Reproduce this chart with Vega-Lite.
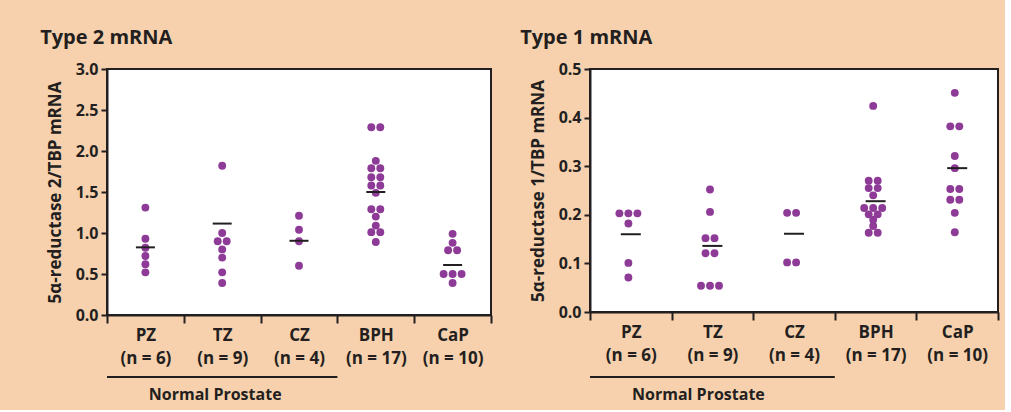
{
  "$schema": "https://vega.github.io/schema/vega-lite/v6.json",
  "background": "#F7D1AD",
  "padding": {"left": 39, "top": 27, "right": 5, "bottom": 5},
  "spacing": 26,
  "datasets": {
    "t2": [
      {"cat": "PZ", "v": 1.31}, {"cat": "PZ", "v": 0.93}, {"cat": "PZ", "v": 0.82}, {"cat": "PZ", "v": 0.72}, {"cat": "PZ", "v": 0.62}, {"cat": "PZ", "v": 0.52},
      {"cat": "TZ", "v": 1.82}, {"cat": "TZ", "v": 1.0}, {"cat": "TZ", "v": 0.9}, {"cat": "TZ", "v": 0.9}, {"cat": "TZ", "v": 0.8}, {"cat": "TZ", "v": 0.7}, {"cat": "TZ", "v": 0.52}, {"cat": "TZ", "v": 0.39},
      {"cat": "CZ", "v": 1.21}, {"cat": "CZ", "v": 1.04}, {"cat": "CZ", "v": 0.9}, {"cat": "CZ", "v": 0.6},
      {"cat": "BPH", "v": 2.29}, {"cat": "BPH", "v": 2.29}, {"cat": "BPH", "v": 1.88}, {"cat": "BPH", "v": 1.79}, {"cat": "BPH", "v": 1.79}, {"cat": "BPH", "v": 1.68}, {"cat": "BPH", "v": 1.68}, {"cat": "BPH", "v": 1.58}, {"cat": "BPH", "v": 1.58}, {"cat": "BPH", "v": 1.49}, {"cat": "BPH", "v": 1.29}, {"cat": "BPH", "v": 1.29}, {"cat": "BPH", "v": 1.2}, {"cat": "BPH", "v": 1.09}, {"cat": "BPH", "v": 1.01}, {"cat": "BPH", "v": 1.01}, {"cat": "BPH", "v": 0.89},
      {"cat": "CaP", "v": 0.99}, {"cat": "CaP", "v": 0.88}, {"cat": "CaP", "v": 0.79}, {"cat": "CaP", "v": 0.79}, {"cat": "CaP", "v": 0.5}, {"cat": "CaP", "v": 0.5}, {"cat": "CaP", "v": 0.5}, {"cat": "CaP", "v": 0.39}
    ],
    "t2mean": [
      {"cat": "PZ", "mean": 0.825}, {"cat": "TZ", "mean": 1.115}, {"cat": "CZ", "mean": 0.905}, {"cat": "BPH", "mean": 1.5}, {"cat": "CaP", "mean": 0.61}
    ],
    "t1": [
      {"cat": "PZ", "v": 0.203}, {"cat": "PZ", "v": 0.203}, {"cat": "PZ", "v": 0.203}, {"cat": "PZ", "v": 0.182}, {"cat": "PZ", "v": 0.101}, {"cat": "PZ", "v": 0.071},
      {"cat": "TZ", "v": 0.252}, {"cat": "TZ", "v": 0.206}, {"cat": "TZ", "v": 0.152}, {"cat": "TZ", "v": 0.152}, {"cat": "TZ", "v": 0.121}, {"cat": "TZ", "v": 0.121}, {"cat": "TZ", "v": 0.054}, {"cat": "TZ", "v": 0.054}, {"cat": "TZ", "v": 0.054},
      {"cat": "CZ", "v": 0.204}, {"cat": "CZ", "v": 0.204}, {"cat": "CZ", "v": 0.102}, {"cat": "CZ", "v": 0.102},
      {"cat": "BPH", "v": 0.424}, {"cat": "BPH", "v": 0.27}, {"cat": "BPH", "v": 0.27}, {"cat": "BPH", "v": 0.255}, {"cat": "BPH", "v": 0.255}, {"cat": "BPH", "v": 0.24}, {"cat": "BPH", "v": 0.214}, {"cat": "BPH", "v": 0.214}, {"cat": "BPH", "v": 0.214}, {"cat": "BPH", "v": 0.201}, {"cat": "BPH", "v": 0.201}, {"cat": "BPH", "v": 0.19}, {"cat": "BPH", "v": 0.177}, {"cat": "BPH", "v": 0.163}, {"cat": "BPH", "v": 0.163},
      {"cat": "CaP", "v": 0.451}, {"cat": "CaP", "v": 0.382}, {"cat": "CaP", "v": 0.382}, {"cat": "CaP", "v": 0.321}, {"cat": "CaP", "v": 0.296}, {"cat": "CaP", "v": 0.253}, {"cat": "CaP", "v": 0.253}, {"cat": "CaP", "v": 0.231}, {"cat": "CaP", "v": 0.231}, {"cat": "CaP", "v": 0.204}, {"cat": "CaP", "v": 0.164}
    ],
    "t1mean": [
      {"cat": "PZ", "mean": 0.16}, {"cat": "TZ", "mean": 0.136}, {"cat": "CZ", "mean": 0.161}, {"cat": "BPH", "mean": 0.228}, {"cat": "CaP", "mean": 0.296}
    ],
    "groups": [
      {"from": "PZ", "to": "CZ", "mid": "TZ", "label": "Normal Prostate"}
    ]
  },
  "config": {
    "font": "Open Sans",
    "view": {"fill": "white", "stroke": "#231F20", "strokeWidth": 2},
    "title": {"anchor": "start", "frame": "bounds", "fontSize": 20, "fontWeight": "bold", "color": "#231F20", "font": "Open Sans"},
    "axisX": {
      "title": null, "labelAngle": 0, "domainColor": "#231F20", "domainWidth": 2,
      "tickBand": "extent", "tickSize": 8, "tickWidth": 2, "tickColor": "#231F20",
      "labelFontSize": 17, "labelFontWeight": "bold", "labelColor": "#231F20", "labelLineHeight": 23, "labelPadding": 4, "labelOverlap": false,
      "labelExpr": "[datum.value, {'PZ':'(n = 6)','TZ':'(n = 9)','CZ':'(n = 4)','BPH':'(n = 17)','CaP':'(n = 10)'}[datum.value]]"
    },
    "axisY": {
      "domainColor": "#231F20", "domainWidth": 2, "tickSize": 6, "tickWidth": 2, "tickColor": "#231F20", "grid": false,
      "labelFontSize": 16, "labelFontWeight": "bold", "labelColor": "#231F20", "labelPadding": 3, "format": ".1f",
      "titleFontSize": 17, "titleFontWeight": "bold", "titleColor": "#231F20", "titlePadding": 11
    }
  },
  "resolve": {"scale": {"x": "independent", "y": "independent"}},
  "hconcat": [
    {
      "width": 384, "height": 246,
      "title": {"text": "Type 2 mRNA", "dx": -6, "offset": 13},
      "layer": [
        {
          "data": {"name": "t2"},
          "transform": [
            {"window": [{"op": "row_number", "as": "rank"}], "groupby": ["cat", "v"]},
            {"joinaggregate": [{"op": "count", "as": "cnt"}], "groupby": ["cat", "v"]},
            {"calculate": "datum.rank - (datum.cnt + 1) / 2", "as": "slot"}
          ],
          "mark": {"type": "circle", "size": 62, "color": "#8E3B98", "opacity": 1},
          "encoding": {
            "x": {"field": "cat", "type": "nominal", "scale": {"domain": ["PZ", "TZ", "CZ", "BPH", "CaP"], "paddingInner": 0, "paddingOuter": 0}},
            "xOffset": {"field": "slot", "type": "quantitative", "scale": {"domain": [-1, 1], "range": [29.4, 47.4]}},
            "y": {"field": "v", "type": "quantitative", "scale": {"domain": [0, 3]}, "axis": {"values": [0, 0.5, 1, 1.5, 2, 2.5, 3], "title": "5α-reductase 2/TBP mRNA"}}
          }
        },
        {
          "data": {"name": "t2mean"},
          "mark": {"type": "tick", "orient": "horizontal", "size": 19, "thickness": 2, "color": "#231F20", "opacity": 1},
          "encoding": {
            "x": {"field": "cat", "type": "nominal"},
            "y": {"field": "mean", "type": "quantitative"}
          }
        },
        {
          "data": {"name": "groups"},
          "mark": {"type": "rule", "clip": false, "strokeWidth": 2, "color": "#231F20"},
          "encoding": {
            "x": {"field": "from", "type": "nominal", "bandPosition": 0},
            "x2": {"field": "to", "bandPosition": 1},
            "y": {"datum": -0.756}
          }
        },
        {
          "data": {"name": "groups"},
          "mark": {"type": "text", "clip": false, "fontSize": 16, "fontWeight": "bold", "color": "#231F20", "dx": -7, "baseline": "middle"},
          "encoding": {
            "x": {"field": "mid", "type": "nominal"},
            "y": {"datum": -0.976},
            "text": {"field": "label"}
          }
        }
      ]
    },
    {
      "width": 408, "height": 243,
      "title": {"text": "Type 1 mRNA", "dx": -9, "offset": 13},
      "layer": [
        {
          "data": {"name": "t1"},
          "transform": [
            {"window": [{"op": "row_number", "as": "rank"}], "groupby": ["cat", "v"]},
            {"joinaggregate": [{"op": "count", "as": "cnt"}], "groupby": ["cat", "v"]},
            {"calculate": "datum.rank - (datum.cnt + 1) / 2", "as": "slot"}
          ],
          "mark": {"type": "circle", "size": 62, "color": "#8E3B98", "opacity": 1},
          "encoding": {
            "x": {"field": "cat", "type": "nominal", "scale": {"domain": ["PZ", "TZ", "CZ", "BPH", "CaP"], "paddingInner": 0, "paddingOuter": 0}},
            "xOffset": {"field": "slot", "type": "quantitative", "scale": {"domain": [-1, 1], "range": [30.8, 50.8]}},
            "y": {"field": "v", "type": "quantitative", "scale": {"domain": [0, 0.5]}, "axis": {"values": [0, 0.1, 0.2, 0.3, 0.4, 0.5], "title": "5α-reductase 1/TBP mRNA"}}
          }
        },
        {
          "data": {"name": "t1mean"},
          "mark": {"type": "tick", "orient": "horizontal", "size": 20, "thickness": 2, "color": "#231F20", "opacity": 1},
          "encoding": {
            "x": {"field": "cat", "type": "nominal"},
            "y": {"field": "mean", "type": "quantitative"}
          }
        },
        {
          "data": {"name": "groups"},
          "mark": {"type": "rule", "clip": false, "strokeWidth": 2, "color": "#231F20"},
          "encoding": {
            "x": {"field": "from", "type": "nominal", "bandPosition": 0},
            "x2": {"field": "to", "bandPosition": 1},
            "y": {"datum": -0.134}
          }
        },
        {
          "data": {"name": "groups"},
          "mark": {"type": "text", "clip": false, "fontSize": 16, "fontWeight": "bold", "color": "#231F20", "dx": -14, "baseline": "middle"},
          "encoding": {
            "x": {"field": "mid", "type": "nominal"},
            "y": {"datum": -0.171},
            "text": {"field": "label"}
          }
        }
      ]
    }
  ]
}
